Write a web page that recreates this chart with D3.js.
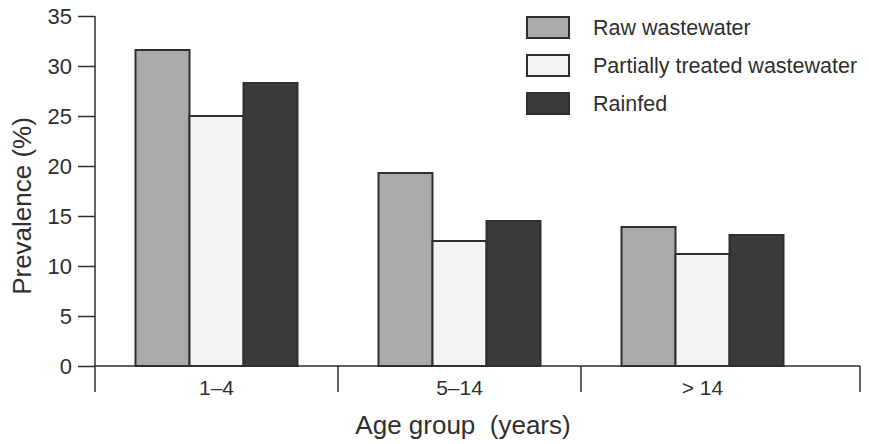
<!DOCTYPE html>
<html>
<head>
<meta charset="utf-8">
<script src="https://cdn.jsdelivr.net/npm/d3@7"></script>
<style>
  html, body { margin: 0; padding: 0; background: #fff; }
  svg { display: block; font-family: "Liberation Sans", Arial, Helvetica, sans-serif; }
</style>
</head>
<body>
<svg id="chart" width="869" height="444"></svg>
<script>
// Prevalence by age group and irrigation water type
const ageGroups = ["1–4", "5–14", "> 14"];
const seriesNames = ["Raw wastewater", "Partially treated wastewater", "Rainfed"];
const rawWastewater = [31.6, 19.3, 13.9];
const partiallyTreated = [25.0, 12.5, 11.2];
const rainfed = [28.3, 14.5, 13.1];
const yTicks = [0, 5, 10, 15, 20, 25, 30, 35];

const seriesValues = [rawWastewater, partiallyTreated, rainfed];
const fills = ["#aaaaaa", "#f3f3f3", "#3b3b3b"];
const ink = "#2f2f2f";

const svg = d3.select("#chart");

const plot = { left: 95, top: 16, bottom: 366, bandRight: 824, axisRight: 860, tickDrop: 26 };

const x0 = d3.scaleBand()
  .domain(ageGroups)
  .range([plot.left, plot.bandRight])
  .paddingInner(1 / 3)
  .paddingOuter(1 / 6);

const x1 = d3.scaleBand()
  .domain(seriesNames)
  .range([0, x0.bandwidth()]);

const y = d3.scaleLinear().domain([0, 35]).range([plot.bottom, plot.top]);

// bars
const groups = svg.append("g").selectAll("g")
  .data(ageGroups)
  .join("g")
  .attr("transform", d => `translate(${x0(d)},0)`);

groups.selectAll("rect")
  .data((g, gi) => seriesNames.map((s, si) => ({ s, si, v: seriesValues[si][gi] })))
  .join("rect")
  .attr("x", d => x1(d.s))
  .attr("y", d => y(d.v))
  .attr("width", x1.bandwidth())
  .attr("height", d => y(0) - y(d.v))
  .attr("fill", d => fills[d.si])
  .attr("stroke", ink)
  .attr("stroke-width", 2);

// y axis
const yAxis = svg.append("g")
  .attr("transform", `translate(${plot.left},0)`)
  .call(d3.axisLeft(y).tickValues(yTicks).tickSize(17).tickPadding(6));
yAxis.select(".domain").remove();
yAxis.selectAll(".tick line").attr("stroke", ink).attr("stroke-width", 1.5);
yAxis.selectAll(".tick text")
  .attr("fill", ink)
  .style("font-size", "22px");

svg.append("line")
  .attr("x1", plot.left).attr("x2", plot.left)
  .attr("y1", y(35)).attr("y2", plot.bottom + plot.tickDrop)
  .attr("stroke", ink).attr("stroke-width", 1.5);

// x axis: baseline with separators between age groups
svg.append("line")
  .attr("x1", plot.left).attr("x2", plot.axisRight)
  .attr("y1", y(0)).attr("y2", y(0))
  .attr("stroke", ink).attr("stroke-width", 1.5);

const separators = ageGroups.slice(1).map((g, i) => plot.left + x0.step() * (i + 1));
separators.push(plot.axisRight);
svg.append("g").selectAll("line")
  .data(separators)
  .join("line")
  .attr("x1", d => d).attr("x2", d => d)
  .attr("y1", y(0)).attr("y2", y(0) + plot.tickDrop)
  .attr("stroke", ink).attr("stroke-width", 1.5);

svg.append("g").selectAll("text")
  .data(ageGroups)
  .join("text")
  .attr("x", d => x0(d) + x0.bandwidth() / 2)
  .attr("y", y(0) + 29)
  .attr("text-anchor", "middle")
  .attr("fill", ink)
  .style("font-size", "21px")
  .text(d => d);

// axis titles
svg.append("text")
  .attr("x", 463).attr("y", 434)
  .attr("text-anchor", "middle")
  .attr("fill", ink)
  .style("font-size", "26px")
  .style("white-space", "pre")
  .text("Age group  (years)");

svg.append("text")
  .attr("transform", `translate(31,${(plot.top + plot.bottom) / 2 + 15}) rotate(-90)`)
  .attr("text-anchor", "middle")
  .attr("fill", ink)
  .style("font-size", "26px")
  .text("Prevalence (%)");

// legend
const legend = svg.append("g").attr("transform", "translate(527,17)");
const item = legend.selectAll("g")
  .data(seriesNames)
  .join("g")
  .attr("transform", (d, i) => `translate(0,${i * 38})`);
item.append("rect")
  .attr("width", 42).attr("height", 21)
  .attr("fill", (d, i) => fills[i])
  .attr("stroke", ink).attr("stroke-width", 2);
item.append("text")
  .attr("x", 66).attr("y", 18)
  .attr("fill", ink)
  .style("font-size", "21.5px")
  .text(d => d);
</script>
</body>
</html>
